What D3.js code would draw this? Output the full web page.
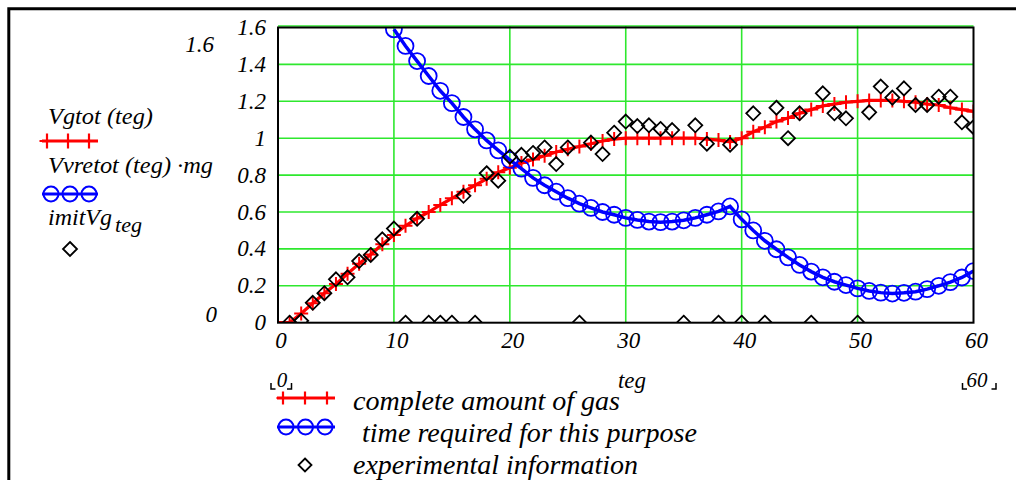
<!DOCTYPE html>
<html>
<head>
<meta charset="utf-8">
<script src="https://cdn.jsdelivr.net/npm/d3@7"></script>
<style>
  body { margin: 0; background: #fff; }
</style>
</head>
<body>
<script>
// teg grid 0..60, one value per integer teg
const tegAll = d3.range(0, 61);

// Vgtot(teg), teg = 0..60
const vgtot = [
  0, 0, 0.05, 0.105, 0.16, 0.21, 0.265, 0.32, 0.37, 0.425, 0.475,
  0.525, 0.565, 0.60, 0.638, 0.674, 0.71, 0.745, 0.78, 0.815, 0.84,
  0.865, 0.885, 0.905, 0.925, 0.94, 0.955, 0.97, 0.985, 0.995, 1.0,
  1.0, 1.0, 1.0, 1.0, 1.0, 1.0, 0.995, 0.99, 0.98, 1.0,
  1.035, 1.06, 1.09, 1.11, 1.135, 1.155, 1.175, 1.185, 1.195, 1.2,
  1.205, 1.205, 1.205, 1.2, 1.195, 1.185, 1.18, 1.165, 1.155, 1.145
];

// Vvretot(teg)*mg, visible from teg = 10 to 60
const vvretotStart = 10;
const vvretot = [
  1.59, 1.50, 1.418, 1.337, 1.257, 1.19, 1.115, 1.048, 0.988, 0.934,
  0.882, 0.835, 0.785, 0.745, 0.71, 0.675, 0.645, 0.622, 0.60, 0.585,
  0.568, 0.557, 0.548, 0.545, 0.548, 0.555, 0.568, 0.585, 0.603, 0.63,
  0.56, 0.50, 0.444, 0.398, 0.354, 0.313, 0.277, 0.246, 0.222, 0.204,
  0.186, 0.172, 0.163, 0.158, 0.162, 0.168, 0.182, 0.2, 0.22, 0.245,
  0.28
];

// imitVg_teg, teg = 1..60 (zeros are missing measurements)
const imitStart = 1;
const imitVg = [
  0, 0.01, 0.108, 0.16, 0.235, 0.246, 0.334, 0.367, 0.452, 0.51,
  0, 0.563, 0, 0, 0, 0.688, 0, 0.81, 0.77, 0.90,
  0.91, 0.92, 0.95, 0.86, 0.95, 0, 0.976, 0.914, 1.03, 1.09,
  1.066, 1.07, 1.05, 1.044, 0, 1.07, 0.97, 0, 0.965, 0,
  1.135, 0, 1.165, 1.0, 1.135, 0, 1.243, 1.135, 1.108, 0,
  1.14, 1.28, 1.22, 1.27, 1.18, 1.18, 1.225, 1.225, 1.086, 1.06
];

const xTicks = [0, 10, 20, 30, 40, 50, 60];
const yTicks = [0, 0.2, 0.4, 0.6, 0.8, 1, 1.2, 1.4, 1.6];

const traceNames = ['Vgtot', 'Vvretot', 'imitVg'];
const legendLabels = ['complete amount of gas', 'time required for this purpose', 'experimental information'];

const width = 1016;
const height = 480;
const plot = { left: 278, right: 973.5, top: 27.5, bottom: 322.7 };

const x = d3.scaleLinear([0, 60], [plot.left, plot.right]);
const y = d3.scaleLinear([0, 1.6], [plot.bottom, plot.top]);

const red = '#ff0000';
const blue = '#0000ff';
const green = '#2ee82e';

const plusPath = (s) => `M${-s},0H${s}M0,${-s}V${s}`;
const diamondPath = (s) => `M0,${-s}L${s},0L0,${s}L${-s},0Z`;

const redPts = tegAll.map((t, i) => [t, vgtot[i]]);
const bluePts = vvretot.map((v, i) => [vvretotStart + i, v]);
const imitPts = imitVg.map((v, i) => [imitStart + i, v]);

const svg = d3.select('body')
  .append('svg')
  .attr('width', width)
  .attr('height', height);

svg.append('rect')
  .attr('width', width)
  .attr('height', height)
  .attr('fill', '#fff');

// outer frame (only top and left visible in the picture)
svg.append('path')
  .attr('d', `M8.8,${height}V8.8H${width}`)
  .attr('fill', 'none')
  .attr('stroke', '#000')
  .attr('stroke-width', 3);

svg.append('defs')
  .append('clipPath')
  .attr('id', 'plot-clip')
  .append('rect')
  .attr('x', plot.left)
  .attr('y', plot.top)
  .attr('width', plot.right - plot.left)
  .attr('height', plot.bottom - plot.top);

// grid
const grid = svg.append('g')
  .attr('stroke', green)
  .attr('stroke-width', 1.6);

grid.selectAll('.vgrid')
  .data(xTicks.slice(1, -1))
  .join('line')
  .attr('x1', (d) => x(d))
  .attr('x2', (d) => x(d))
  .attr('y1', plot.top - 1.5)
  .attr('y2', plot.bottom);

grid.selectAll('.hgrid')
  .data(yTicks.slice(1))
  .join('line')
  .attr('x1', plot.left)
  .attr('x2', plot.right)
  .attr('y1', (d) => y(d) - (d === 1.6 ? 1.5 : 0))
  .attr('y2', (d) => y(d) - (d === 1.6 ? 1.5 : 0));

const data = svg.append('g').attr('clip-path', 'url(#plot-clip)');

const line = d3.line()
  .x((d) => x(d[0]))
  .y((d) => y(d[1]));

// trace 1: Vgtot
data.append('path')
  .attr('d', line(redPts))
  .attr('fill', 'none')
  .attr('stroke', red)
  .attr('stroke-width', 3.2);

data.append('g')
  .selectAll('path')
  .data(redPts)
  .join('path')
  .attr('transform', (d) => `translate(${x(d[0])},${y(d[1])})`)
  .attr('d', plusPath(7))
  .attr('stroke', red)
  .attr('stroke-width', 2)
  .attr('fill', 'none');

// trace 2: Vvretot*mg
data.append('path')
  .attr('d', line(bluePts))
  .attr('fill', 'none')
  .attr('stroke', blue)
  .attr('stroke-width', 3.5);

data.append('g')
  .selectAll('circle')
  .data(bluePts)
  .join('circle')
  .attr('cx', (d) => x(d[0]))
  .attr('cy', (d) => y(d[1]))
  .attr('r', 8)
  .attr('fill', 'none')
  .attr('stroke', blue)
  .attr('stroke-width', 1.8);

// trace 3: imitVg
data.append('g')
  .selectAll('path')
  .data(imitPts)
  .join('path')
  .attr('transform', (d) => `translate(${x(d[0])},${y(d[1])})`)
  .attr('d', diamondPath(7))
  .attr('fill', 'none')
  .attr('stroke', '#000')
  .attr('stroke-width', 1.8);

// plot frame
svg.append('rect')
  .attr('x', plot.left)
  .attr('y', plot.top)
  .attr('width', plot.right - plot.left)
  .attr('height', plot.bottom - plot.top)
  .attr('fill', 'none')
  .attr('stroke', '#000')
  .attr('stroke-width', 2);

// serif italic, set the same way for every label (important beats injected rules)
const styleText = (sel, size) => sel
  .attr('font-family', 'Liberation Serif')
  .style('font-family', "'Liberation Serif'", 'important')
  .style('font-style', 'italic', 'important')
  .style('font-size', `${size}px`, 'important')
  .attr('fill', '#000');

// axes, labels drawn as plain text from the scales
const yLabels = svg.append('g');
yTicks.forEach((d) => {
  styleText(yLabels.append('text')
    .attr('x', plot.left - 12)
    .attr('y', y(d) + 7.5)
    .attr('text-anchor', 'end')
    .text(String(d)), 23);
});

const xLabels = svg.append('g');
xTicks.forEach((d) => {
  styleText(xLabels.append('text')
    .attr('x', x(d) + 3)
    .attr('y', 348)
    .attr('text-anchor', 'middle')
    .text(String(d)), 23);
});

const txt = (parent, tx, ty, s, size, anchor, len) => {
  const t = parent.append('text')
    .attr('x', tx)
    .attr('y', ty)
    .attr('text-anchor', anchor || 'start')
    .text(s);
  if (len) {
    t.attr('textLength', len).attr('lengthAdjust', 'spacingAndGlyphs');
  }
  return styleText(t, size);
};

// axis variable and range limits
txt(svg, 632, 388, 'teg', 23, 'middle');
txt(svg, 214, 52, '1.6', 23, 'end');
txt(svg, 217, 322, '0', 23, 'end');
txt(svg, 282, 387, '0', 21, 'middle');
txt(svg, 977, 387, '60', 21, 'middle');

const bracket = (bx, by, side) => {
  const d = side === 'left'
    ? `M${bx},${by - 6}V${by}H${bx + 4.5}`
    : `M${bx - 4.5},${by}H${bx}V${by - 6}`;
  svg.append('path')
    .attr('d', d)
    .attr('fill', 'none')
    .attr('stroke', '#000')
    .attr('stroke-width', 1.5);
};
bracket(271, 389, 'left');
bracket(291.5, 389, 'right');
bracket(962.5, 389, 'left');
bracket(996, 389, 'right');

// legend symbol rows
const legendSymbols = (g, x0, x1, yy, kind, centers, s) => {
  if (kind !== 'diamond') {
    g.append('line')
      .attr('x1', x0).attr('x2', x1)
      .attr('y1', yy).attr('y2', yy)
      .attr('stroke', kind === 'plus' ? red : blue)
      .attr('stroke-width', kind === 'plus' ? 3 : 3.2);
  }
  centers.forEach((cx) => {
    if (kind === 'plus') {
      g.append('path')
        .attr('transform', `translate(${cx},${yy})`)
        .attr('d', plusPath(s))
        .attr('stroke', red)
        .attr('stroke-width', 2.2);
    } else if (kind === 'circle') {
      g.append('circle')
        .attr('cx', cx).attr('cy', yy).attr('r', s)
        .attr('fill', 'none')
        .attr('stroke', blue)
        .attr('stroke-width', 2);
    } else {
      g.append('path')
        .attr('transform', `translate(${cx},${yy})`)
        .attr('d', diamondPath(s))
        .attr('fill', 'none')
        .attr('stroke', '#000')
        .attr('stroke-width', 1.8);
    }
  });
};

// left-hand trace legend
const leftLegend = svg.append('g');
txt(leftLegend, 48, 124, `${traceNames[0]} (teg)`, 24, 'start', 105);
legendSymbols(leftLegend, 42, 98, 141, 'plus', [47, 68, 89], 7.5);
txt(leftLegend, 48, 173, `${traceNames[1]} (teg) ·mg`, 24, 'start', 165);
legendSymbols(leftLegend, 42, 98, 194, 'circle', [51, 70, 89], 7.5);
txt(leftLegend, 48, 225, traceNames[2], 24, 'start', 64);
txt(leftLegend, 115, 232, 'teg', 22, 'start', 27);
legendSymbols(leftLegend, 0, 0, 249, 'diamond', [70], 7);

// bottom legend
const bottomLegend = svg.append('g');
legendSymbols(bottomLegend, 277, 335, 398, 'plus', [283, 305, 327], 6.5);
txt(bottomLegend, 353, 410, legendLabels[0], 28, 'start', 267);
legendSymbols(bottomLegend, 277, 335, 427, 'circle', [286, 305.5, 325], 7.5);
txt(bottomLegend, 362, 442, legendLabels[1], 28, 'start', 335);
legendSymbols(bottomLegend, 0, 0, 465, 'diamond', [305], 6.5);
txt(bottomLegend, 353, 474, legendLabels[2], 28, 'start', 285);
</script>
</body>
</html>
